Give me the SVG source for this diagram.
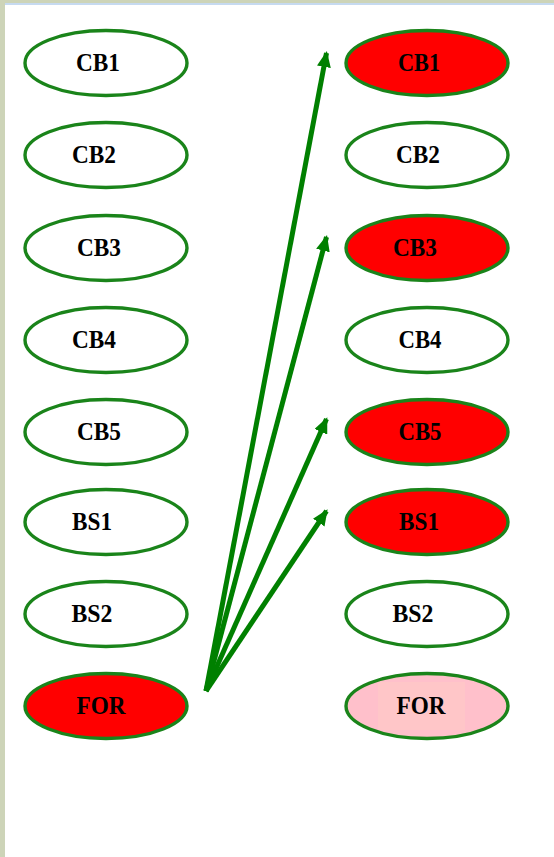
<svg xmlns="http://www.w3.org/2000/svg" width="554" height="857" viewBox="0 0 554 857">
<style>
.n ellipse{stroke:#1A841A;stroke-width:3.4;fill:#fff}
.n.red ellipse{fill:#FF0000}
.n.pink ellipse{fill:#FFC0CB}
.n text{font-family:"Liberation Serif",serif;font-weight:bold;font-size:25px;fill:#000;text-anchor:middle}
.c line{stroke:#008000;stroke-width:5;marker-end:url(#ah)}
</style>
<defs>
<marker id="ah" markerUnits="userSpaceOnUse" viewBox="0 0 16 14" refX="14" refY="7" markerWidth="16" markerHeight="14" orient="auto">
<path d="M0,0 L16,7 L0,14 Z" fill="#008000"/>
</marker>
</defs>
<rect x="0" y="0" width="554" height="857" fill="#fff"/>
<rect x="0" y="0" width="554" height="3" fill="#CDD4B8"/>
<rect x="0" y="3" width="554" height="2" fill="#C6DAF0"/>
<rect x="0" y="0" width="5" height="857" fill="#CDD4B8"/>

<g id="L_CB1" class="n"><ellipse cx="106" cy="63" rx="81" ry="32.5"/><text x="98" y="71" textLength="44" lengthAdjust="spacingAndGlyphs">CB1</text></g>
<g id="L_CB2" class="n"><ellipse cx="106" cy="155" rx="81" ry="32.5"/><text x="94" y="163" textLength="44" lengthAdjust="spacingAndGlyphs">CB2</text></g>
<g id="L_CB3" class="n"><ellipse cx="106" cy="248" rx="81" ry="32.5"/><text x="99" y="256" textLength="44" lengthAdjust="spacingAndGlyphs">CB3</text></g>
<g id="L_CB4" class="n"><ellipse cx="106" cy="340" rx="81" ry="32.5"/><text x="94" y="348" textLength="44" lengthAdjust="spacingAndGlyphs">CB4</text></g>
<g id="L_CB5" class="n"><ellipse cx="106" cy="432" rx="81" ry="32.5"/><text x="99" y="440" textLength="44" lengthAdjust="spacingAndGlyphs">CB5</text></g>
<g id="L_BS1" class="n"><ellipse cx="106" cy="522" rx="81" ry="32.5"/><text x="92" y="530" textLength="40" lengthAdjust="spacingAndGlyphs">BS1</text></g>
<g id="L_BS2" class="n"><ellipse cx="106" cy="614" rx="81" ry="32.5"/><text x="92" y="622" textLength="41" lengthAdjust="spacingAndGlyphs">BS2</text></g>
<g id="L_FOR" class="n red"><ellipse cx="106" cy="706" rx="81" ry="32.5"/><text x="101" y="714" textLength="49" lengthAdjust="spacingAndGlyphs">FOR</text></g>

<g id="R_CB1" class="n red"><ellipse cx="427" cy="63" rx="81" ry="32.5"/><text x="419" y="71" textLength="42" lengthAdjust="spacingAndGlyphs">CB1</text></g>
<g id="R_CB2" class="n"><ellipse cx="427" cy="155" rx="81" ry="32.5"/><text x="418" y="163" textLength="44" lengthAdjust="spacingAndGlyphs">CB2</text></g>
<g id="R_CB3" class="n red"><ellipse cx="427" cy="248" rx="81" ry="32.5"/><text x="415" y="256" textLength="44" lengthAdjust="spacingAndGlyphs">CB3</text></g>
<g id="R_CB4" class="n"><ellipse cx="427" cy="340" rx="81" ry="32.5"/><text x="420" y="348" textLength="43" lengthAdjust="spacingAndGlyphs">CB4</text></g>
<g id="R_CB5" class="n red"><ellipse cx="427" cy="432" rx="81" ry="32.5"/><text x="420" y="440" textLength="43" lengthAdjust="spacingAndGlyphs">CB5</text></g>
<g id="R_BS1" class="n red"><ellipse cx="427" cy="522" rx="81" ry="32.5"/><text x="419" y="530" textLength="40" lengthAdjust="spacingAndGlyphs">BS1</text></g>
<g id="R_BS2" class="n"><ellipse cx="427" cy="614" rx="81" ry="32.5"/><text x="413" y="622" textLength="41" lengthAdjust="spacingAndGlyphs">BS2</text></g>
<g id="R_FOR" class="n pink"><ellipse cx="427" cy="706" rx="81" ry="32.5"/><rect x="378" y="682" width="87" height="48" fill="#FFC6C8"/><text x="421" y="714" textLength="49" lengthAdjust="spacingAndGlyphs">FOR</text></g>

<g id="connectors" class="c">
<line x1="206" y1="691" x2="326.5" y2="53"/>
<line x1="206" y1="691" x2="326.5" y2="237"/>
<line x1="206" y1="691" x2="326.5" y2="419"/>
<line x1="206" y1="691" x2="326.5" y2="511"/>
</g>
</svg>
